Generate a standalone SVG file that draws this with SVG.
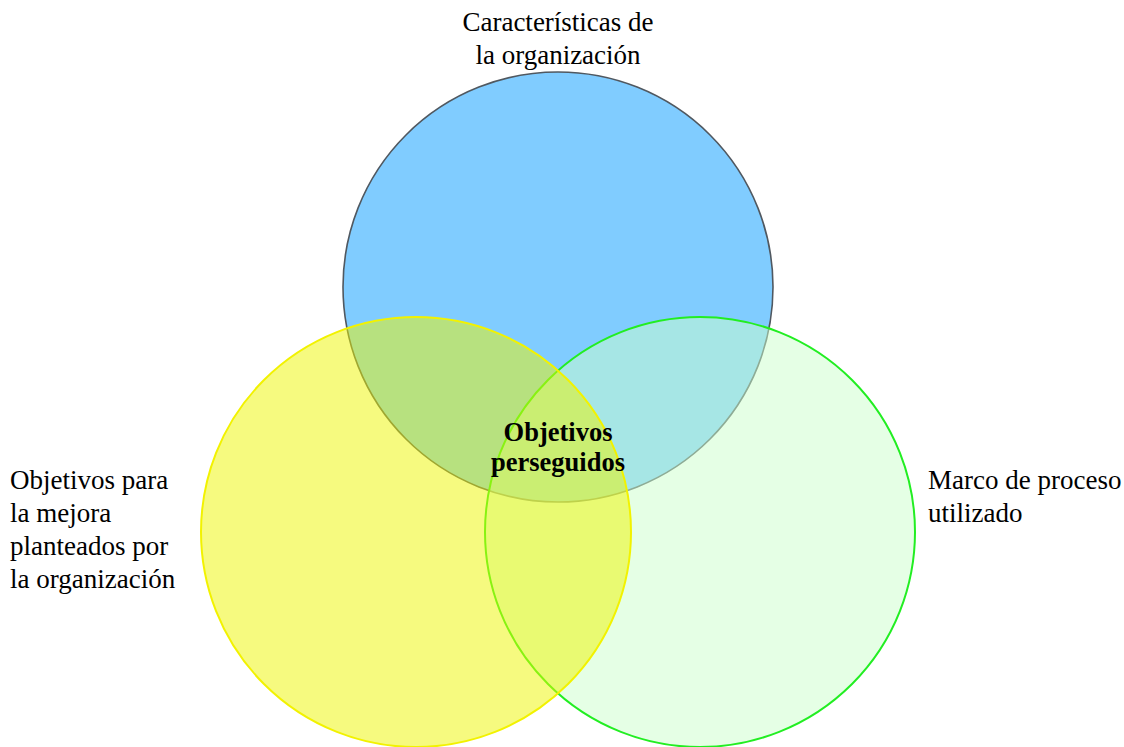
<svg xmlns="http://www.w3.org/2000/svg" width="1124" height="747" viewBox="0 0 1124 747">
<style>
.t{font-family:"Liberation Serif","Times New Roman",serif;font-size:27px;fill:#000}
.b{font-weight:bold;text-anchor:middle;font-size:26.5px}
</style>
<rect width="1124" height="747" fill="#fff"/>
<g id="circle-top">
<circle cx="558" cy="287" r="215" fill="#80CCFF" stroke="#505860" stroke-width="1.6"/>
</g>
<g id="circle-right">
<circle cx="700" cy="532" r="215" fill="#CCFFCC" fill-opacity="0.5" stroke="#22EE22" stroke-width="2"/>
</g>
<g id="circle-left">
<circle cx="416" cy="532" r="215" fill="#EEF500" fill-opacity="0.5" stroke="#F2F200" stroke-width="2"/>
</g>
<g id="connectors"></g>
<g id="label-top">
<text class="t" x="558" y="31" text-anchor="middle">Características de</text>
<text class="t" x="558" y="64" text-anchor="middle">la organización</text>
</g>
<g id="label-left">
<text class="t" x="10" y="489">Objetivos para</text>
<text class="t" x="10" y="522">la mejora</text>
<text class="t" x="10" y="555">planteados por</text>
<text class="t" x="10" y="588">la organización</text>
</g>
<g id="label-right">
<text class="t" x="928" y="489">Marco de proceso</text>
<text class="t" x="928" y="522">utilizado</text>
</g>
<g id="label-center">
<text class="t b" x="558" y="441">Objetivos</text>
<text class="t b" x="558" y="471">perseguidos</text>
</g>
</svg>
